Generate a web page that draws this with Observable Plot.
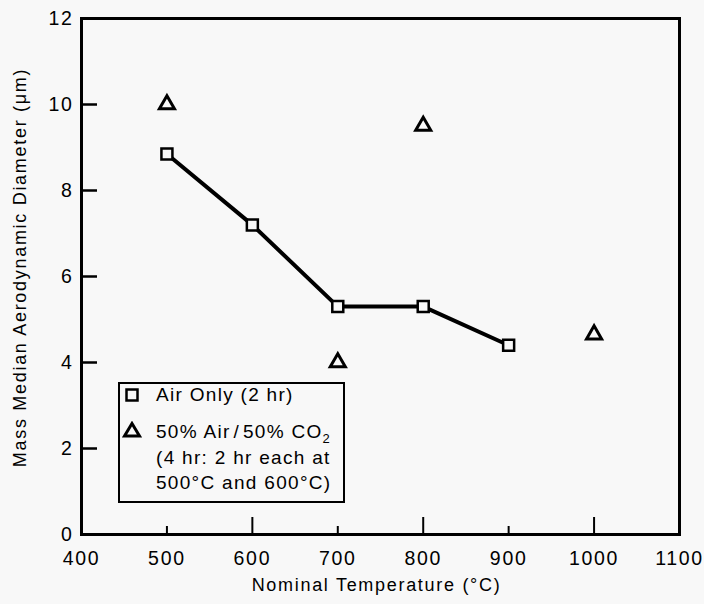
<!DOCTYPE html>
<html>
<head>
<meta charset="utf-8">
<script src="https://cdn.jsdelivr.net/npm/d3@7"></script>
<script src="https://cdn.jsdelivr.net/npm/@observablehq/plot@0.6"></script>
<style>
  html, body { margin: 0; padding: 0; background: #f8f8f8; }
  #chart { position: relative; width: 704px; height: 604px; font-family: "Liberation Sans", Arial, sans-serif; }
  #chart svg text { letter-spacing: 1.7px; }
  .legend {
    position: absolute; left: 118px; top: 382px; width: 227px; height: 121px;
    box-sizing: border-box; border: 2.5px solid #000; color: #000;
    font-size: 19px; letter-spacing: 1.3px; line-height: 25.5px;
  }
  .legend .sym { position: absolute; left: 4px; }
  .legend .lab { position: absolute; left: 36px; white-space: nowrap; }
  .legend sub { font-size: 13px; vertical-align: -5px; line-height: 0; letter-spacing: 0; }
</style>
</head>
<body>
<div id="chart"></div>
<script>
// Air only (2 hr): mass median aerodynamic diameter (µm) by nominal temperature (°C)
const airTemps = [500, 600, 700, 800, 900];
const airDiameter = [8.85, 7.2, 5.3, 5.3, 4.4];

// 50% air / 50% CO2 (4 hr)
const mixTemps = [500, 700, 800, 1000];
const mixDiameter = [10.0, 4.0, 9.5, 4.65];

// Axis ticks
const xTicks = [400, 500, 600, 700, 800, 900, 1000, 1100];
const yTicks = [0, 2, 4, 6, 8, 10, 12];
const yInnerTicks = [2, 4, 6, 8, 10];
const xShortTicks = [500, 700, 900];
const xLongTicks = [600, 800, 1000];

const xTitle = "Nominal Temperature (°C)";
const yTitle = "Mass Median Aerodynamic Diameter (μm)";

const airData = airTemps.map((t, i) => ({temp: t, d: airDiameter[i]}));
const mixData = mixTemps.map((t, i) => ({temp: t, d: mixDiameter[i]}));

const W = 704, H = 604;
const mL = 81, mR = 25, mT = 18, mB = 70;
const plotW = W - mL - mR, plotH = H - mT - mB;
const bg = "#f8f8f8";

const chart = Plot.plot({
  width: W, height: H,
  marginLeft: mL, marginRight: mR, marginTop: mT, marginBottom: mB,
  style: {background: "transparent", fontFamily: "'Liberation Sans', Arial, sans-serif", color: "#000"},
  x: {domain: [400, 1100]},
  y: {domain: [0, 12]},
  marks: [
    Plot.axisX(xTicks, {tickSize: 0, tickPadding: 17, fontSize: 19.5, tickFormat: d => String(d), label: null}),
    Plot.axisY(yTicks, {tickSize: 0, tickPadding: 8, fontSize: 19.5, tickFormat: d => String(d), label: null}),
    // inward tick marks
    Plot.ruleY(yInnerTicks, {y: d => d, insetRight: plotW - 16, stroke: "#000", strokeWidth: 2.5}),
    Plot.ruleX(xShortTicks, {x: d => d, insetTop: plotH - 8, stroke: "#000", strokeWidth: 2}),
    Plot.ruleX(xLongTicks, {x: d => d, insetTop: plotH - 17, stroke: "#000", strokeWidth: 2}),
    Plot.frame({stroke: "#000", strokeWidth: 3}),
    Plot.line(airData, {x: "temp", y: "d", stroke: "#000", strokeWidth: 4}),
    Plot.dot(airData, {x: "temp", y: "d", symbol: "square", r: 6.2, fill: bg, stroke: "#000", strokeWidth: 2.5}),
    Plot.dot(mixData, {x: "temp", y: "d", symbol: "triangle", r: 5.6, fill: "none", stroke: "#000", strokeWidth: 3, strokeLinejoin: "miter"}),
    Plot.text([xTitle], {text: d => d, frameAnchor: "bottom", textAnchor: "middle", lineAnchor: "middle", dx: -4, dy: 51, fontSize: 18}),
    Plot.text([yTitle], {text: d => d, frameAnchor: "left", textAnchor: "middle", lineAnchor: "middle", rotate: -90, dx: -61, dy: -9, fontSize: 18})
  ]
});

const root = document.getElementById("chart");
root.appendChild(chart);

// Legend box
const legend = document.createElement("div");
legend.className = "legend";
legend.innerHTML = `
  <svg class="sym" style="top:3px" width="16" height="16" viewBox="-8 -8 16 16">
    <rect x="-5.5" y="-5.5" width="11" height="11" fill="${bg}" stroke="#000" stroke-width="2.5"/>
  </svg>
  <div class="lab" style="top:-2px">Air Only (2 hr)</div>
  <svg class="sym" style="top:37px;left:2px" width="20" height="18" viewBox="-10 -9 20 18">
    <path d="M0,-6.5L7.5,6L-7.5,6Z" fill="none" stroke="#000" stroke-width="3"/>
  </svg>
  <div class="lab" style="top:35px">50% Air&#8202;/&#8202;50% CO<sub>2</sub><br>(4 hr: 2 hr each at<br>500°C and 600°C)</div>
`;
root.appendChild(legend);
</script>
</body>
</html>
